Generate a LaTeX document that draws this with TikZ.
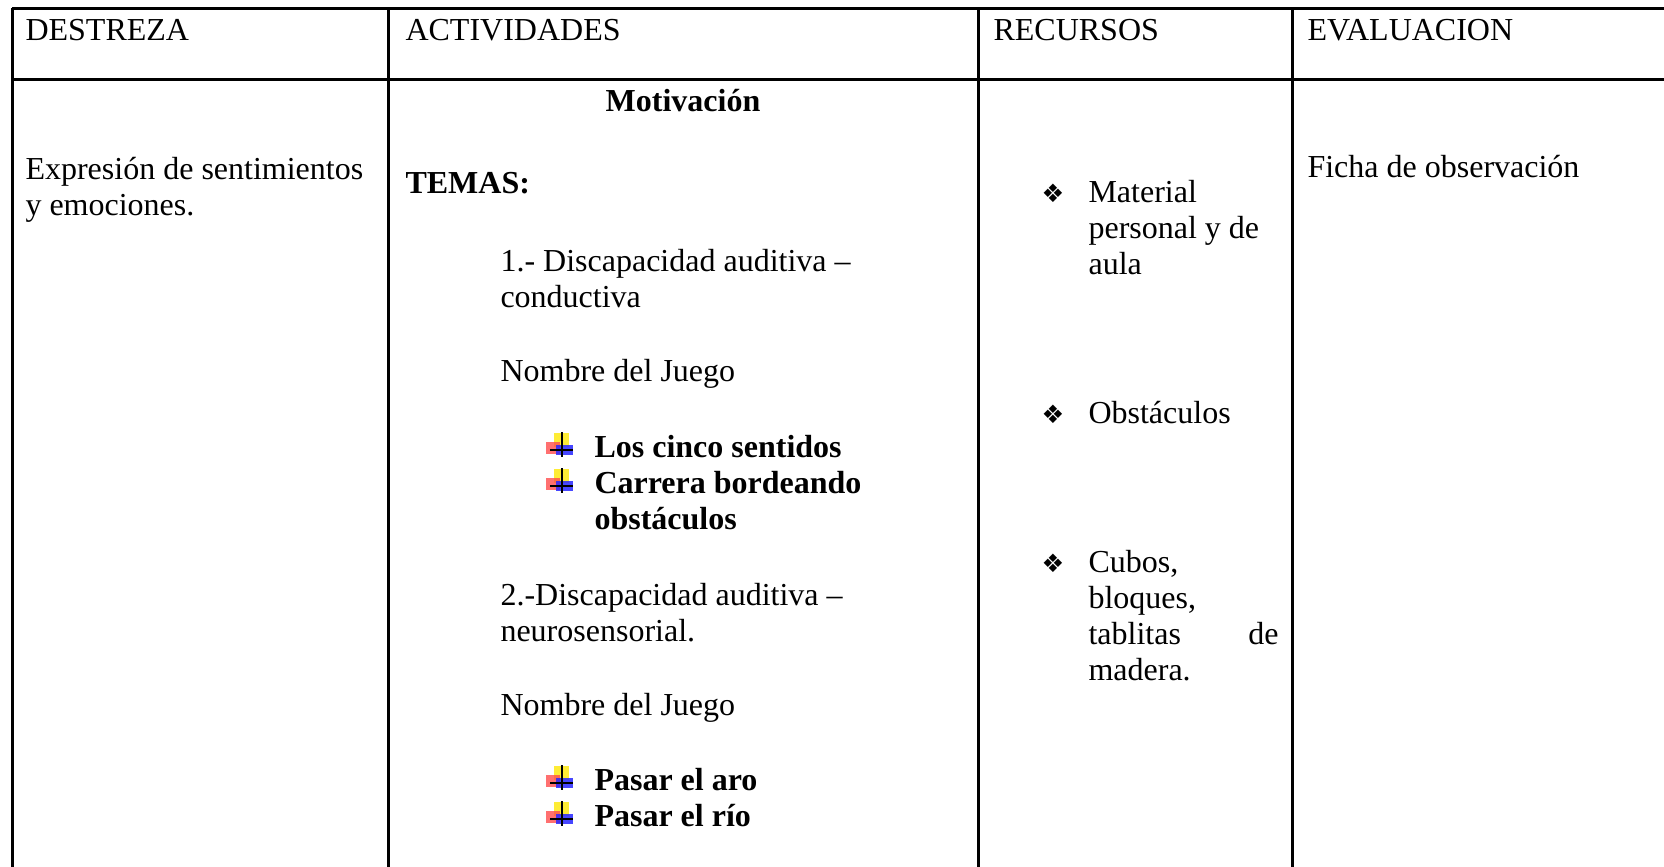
\documentclass[tikz,border=0pt]{standalone}
\usepackage{fontspec}
\setmainfont{Liberation Serif}
\newfontfamily\dingfont{DejaVu Sans}
\begin{document}
\begin{tikzpicture}[x=0.375pt,y=-0.375pt,
  txt/.style={anchor=base west,inner sep=0pt,align=left,font=\fontsize{12}{13.5}\selectfont},
  bold/.style={txt,font=\fontsize{12}{13.5}\selectfont\bfseries},
  dia/.style={anchor=base,inner sep=0pt,font=\dingfont\fontsize{9.5}{10}\selectfont},
  rule/.style={line width=1.125pt},
  cruz/.pic={
    \fill[yellow!90!orange,opacity=.8] (-8.4,-24.4) rectangle (6.6,-10);
    \fill[red!70,opacity=.8] (-15.7,-15) rectangle (-1.7,-3.4);
    \fill[blue!85,opacity=.85] (-5.7,-11.7) rectangle (11,-1.7);
    \draw[line width=0.8pt] (0,-24.7)--(0,0) (-11.7,-6.7)--(11,-6.7);
  }]
\useasboundingbox (0,0) rectangle (1664,867);
\draw[rule] (12,8)--(1664,8);
\draw[rule] (12,79)--(1664,79);
\draw[rule] (12,8)--(12,867);
\draw[rule] (388,8)--(388,867);
\draw[rule] (978,8)--(978,867);
\draw[rule] (1292,8)--(1292,867);
\node[txt] (destr) at (25,40) {DESTREZA};
\node[txt] (activ) at (405,40) {ACTIVIDADES};
\node[txt] (recur) at (993,40) {RECURSOS};
\node[txt] (evalu) at (1307,40) {EVALUACION};
\node[bold,anchor=base] (motiv) at (683,111) {Motivación};
\node[txt] (expre) at (25,215) {Expresión de sentimientos\\y emociones.};
\node[bold] (temas) at (405,193) {TEMAS:};
\node[txt] (tema1) at (500,307) {1.- Discapacidad auditiva –\\conductiva};
\node[txt] (nomb1) at (500,381) {Nombre del Juego};
\node[bold] (juegoa) at (594,457) {Los cinco sentidos};
\node[bold] (juegob) at (594,529) {Carrera bordeando\\obstáculos};
\node[txt] (tema2) at (500,641) {2.-Discapacidad auditiva –\\neurosensorial.};
\node[txt] (nomb2) at (500,715) {Nombre del Juego};
\node[bold] (juegoc) at (594,790) {Pasar el aro};
\node[bold] (juegod) at (594,826) {Pasar el río};
\pic at (562,457) {cruz};
\pic at (562,493) {cruz};
\pic at (562,790) {cruz};
\pic at (562,826) {cruz};
\node[txt] (ficha) at (1307,177) {Ficha de observación};
\node[dia] (dia1) at (1053,202) {❖};
\node[txt] (mater) at (1088,274) {Material\\personal y de\\aula};
\node[dia] (dia2) at (1053,423) {❖};
\node[txt] (obsta) at (1088,423) {Obstáculos};
\node[dia] (dia3) at (1053,572) {❖};
\node[txt,text width=71.25pt] (cubos) at (1088,572) {Cubos,\\bloques,\\tablitas\hspace{0pt plus 1fill}de\\madera.};
\end{tikzpicture}
\end{document}
